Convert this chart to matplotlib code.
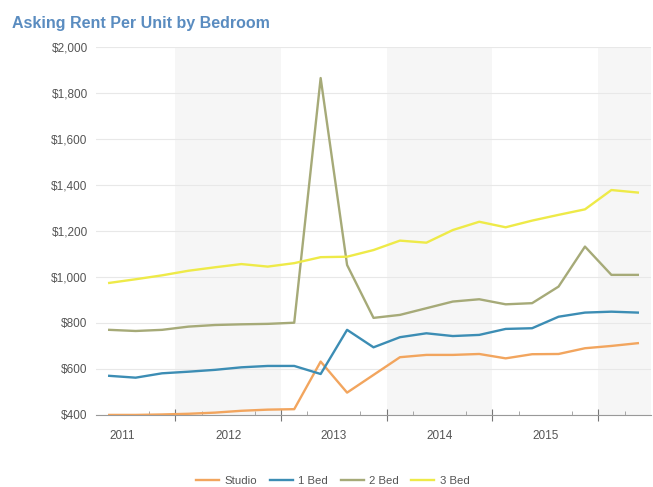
import matplotlib
matplotlib.use("Agg")
import matplotlib.pyplot as plt
from matplotlib.ticker import FuncFormatter

plt.rcParams['font.family'] = ['Liberation Sans', 'DejaVu Sans']

# quarterly data, Q2 2011 .. Q2 2016
quarters = ['2011Q2', '2011Q3', '2011Q4', '2012Q1', '2012Q2', '2012Q3', '2012Q4',
            '2013Q1', '2013Q2', '2013Q3', '2013Q4', '2014Q1', '2014Q2', '2014Q3',
            '2014Q4', '2015Q1', '2015Q2', '2015Q3', '2015Q4', '2016Q1', '2016Q2']

studio = [400, 400, 402, 405, 410, 418, 423, 425, 632, 497, 574, 651, 661, 661,
          665, 646, 664, 665, 690, 700, 712]
one_bed = [570, 562, 581, 588, 596, 607, 613, 613, 578, 770, 694, 738, 755, 743,
           748, 774, 777, 827, 845, 849, 845]
two_bed = [770, 765, 770, 784, 791, 794, 796, 801, 1865, 1052, 822, 835, 864, 893,
           903, 881, 886, 958, 1132, 1009, 1009]
three_bed = [974, 990, 1007, 1027, 1042, 1056, 1045, 1060, 1086, 1088, 1117, 1158,
             1149, 1204, 1240, 1216, 1245, 1270, 1294, 1378, 1367]

years = [2011, 2012, 2013, 2014, 2015]


def quarter_pos(q):
    # middle of the quarter, in fractional years
    return int(q[:4]) + (int(q[5]) - 1) * 0.25 + 0.125


x = [quarter_pos(q) for q in quarters]

fig = plt.figure(figsize=(6.53, 4.87), dpi=100)
ax = fig.add_axes([0.147, 0.148, 0.85, 0.7555])

# alternating year shading
for yr in [2012, 2014, 2016]:
    ax.axvspan(yr, yr + 1, color='#f6f6f6', zorder=0, lw=0)

series = [
    ('Studio', studio, '#F2A55E'),
    ('1 Bed', one_bed, '#3C8DB4'),
    ('2 Bed', two_bed, '#A6AA78'),
    ('3 Bed', three_bed, '#EEEA48'),
]
for name, vals, col in series:
    ax.plot(x, vals, color=col, lw=1.7, label=name, zorder=3)

ax.set_xlim(2011.25, 2016.5)
ax.set_ylim(400, 2000)
ax.set_yticks(range(400, 2001, 200))
ax.yaxis.set_major_formatter(FuncFormatter(lambda v, p: '${:,.0f}'.format(v)))
ax.grid(axis='y', color='#e8e8e8', lw=0.8, zorder=1)
ax.tick_params(axis='y', length=0, labelsize=8.5, labelcolor='#555555', pad=6)

for s in ['top', 'right', 'left']:
    ax.spines[s].set_visible(False)
ax.spines['bottom'].set_color('#999999')

# year labels in the middle of each year, quarter ticks as minor
ax.set_xticks([y + 0.5 for y in years], [str(y) for y in years])
ax.set_xticks([2011.5, 2011.75, 2012.25, 2012.5, 2012.75, 2013.25, 2013.5, 2013.75,
               2014.25, 2014.5, 2014.75, 2015.25, 2015.5, 2015.75, 2016.25], minor=True)
ax.tick_params(axis='x', which='major', length=0, labelsize=8.5, labelcolor='#555555', pad=11)
ax.tick_params(axis='x', which='minor', length=3, color='#999999', direction='in')

sec = ax.secondary_xaxis('bottom')
sec.set_xticks([2012, 2013, 2014, 2015, 2016], labels=[])
sec.tick_params(length=8, direction='inout', color='#777777')
sec.spines['bottom'].set_visible(False)

fig.text(0.018, 0.952, 'Asking Rent Per Unit by Bedroom', fontsize=11.5,
         color='#5A8CC0', fontweight='bold', ha='left', va='center')

fig.legend(loc='center', bbox_to_anchor=(0.51, 0.013), ncol=4, frameon=False,
           fontsize=8.2, handlelength=2.0, handletextpad=0.5, columnspacing=1.1,
           labelcolor='#555555')

fig.savefig('out.png', dpi=100)
